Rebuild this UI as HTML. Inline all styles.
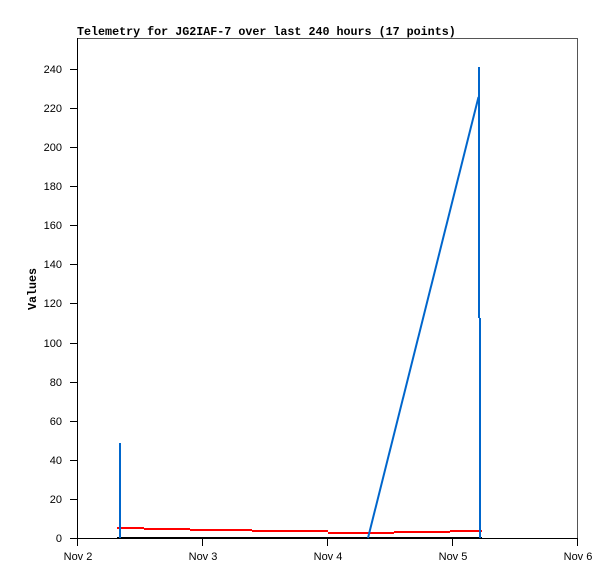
<!DOCTYPE html>
<html><head><meta charset="utf-8"><style>
html,body{margin:0;padding:0;background:#fff;}
svg{display:block;}
.yl{font-family:"Liberation Sans",sans-serif;font-size:11px;fill:#000;}
.mono{font-family:"Liberation Mono",monospace;font-weight:bold;font-size:11.7px;fill:#000;}
</style></head><body>
<svg width="615" height="579" viewBox="0 0 615 579" xmlns="http://www.w3.org/2000/svg" shape-rendering="crispEdges">
<rect width="615" height="579" fill="#fff"/>
<text class="mono" x="77" y="35">Telemetry for JG2IAF-7 over last 240 hours (17 points)</text>
<text class="mono" transform="translate(36,289) rotate(-90)" text-anchor="middle">Values</text>
<!-- frame -->
<rect x="77" y="38" width="500" height="1" fill="#555"/>
<rect x="577" y="38" width="1" height="501" fill="#555"/>
<rect x="77" y="38" width="1" height="501" fill="#000"/>
<rect x="77" y="538" width="501" height="1" fill="#000"/>
<!-- y ticks -->
<g fill="#000">
<rect x="70" y="538" width="7" height="1"/>
<rect x="70" y="499" width="7" height="1"/>
<rect x="70" y="460" width="7" height="1"/>
<rect x="70" y="421" width="7" height="1"/>
<rect x="70" y="382" width="7" height="1"/>
<rect x="70" y="343" width="7" height="1"/>
<rect x="70" y="303" width="7" height="1"/>
<rect x="70" y="264" width="7" height="1"/>
<rect x="70" y="225" width="7" height="1"/>
<rect x="70" y="186" width="7" height="1"/>
<rect x="70" y="147" width="7" height="1"/>
<rect x="70" y="108" width="7" height="1"/>
<rect x="70" y="69" width="7" height="1"/>
</g>
<g class="yl" text-anchor="end">
<text x="62" y="542">0</text>
<text x="62" y="503">20</text>
<text x="62" y="464">40</text>
<text x="62" y="425">60</text>
<text x="62" y="386">80</text>
<text x="62" y="347">100</text>
<text x="62" y="307">120</text>
<text x="62" y="268">140</text>
<text x="62" y="229">160</text>
<text x="62" y="190">180</text>
<text x="62" y="151">200</text>
<text x="62" y="112">220</text>
<text x="62" y="73">240</text>
</g>
<!-- x ticks -->
<g fill="#000">
<rect x="77" y="538" width="1" height="8"/>
<rect x="202" y="538" width="1" height="8"/>
<rect x="327" y="538" width="1" height="8"/>
<rect x="452" y="538" width="1" height="8"/>
<rect x="577" y="538" width="1" height="8"/>
</g>
<g class="yl" text-anchor="middle">
<text x="78" y="560">Nov 2</text>
<text x="203" y="560">Nov 3</text>
<text x="328" y="560">Nov 4</text>
<text x="453" y="560">Nov 5</text>
<text x="578" y="560">Nov 6</text>
</g>
<!-- black series -->
<rect x="117" y="537" width="365" height="2" fill="#000"/>
<!-- red series -->
<g fill="#ff0000">
<rect x="117" y="527" width="27" height="2"/>
<rect x="144" y="528" width="46" height="2"/>
<rect x="190" y="529" width="62" height="2"/>
<rect x="252" y="530" width="76" height="2"/>
<rect x="328" y="532" width="66" height="2"/>
<rect x="394" y="531" width="56" height="2"/>
<rect x="450" y="530" width="32" height="2"/>
</g>
<!-- blue series -->
<g fill="#0066cc">
<rect x="119" y="443" width="2" height="95"/>
<rect x="478" y="67" width="2" height="251"/>
<rect x="479" y="318" width="2" height="220"/>
</g>
<line x1="368" y1="538" x2="478.5" y2="97" stroke="#0066cc" stroke-width="2" shape-rendering="auto"/>
</svg>
</body></html>
